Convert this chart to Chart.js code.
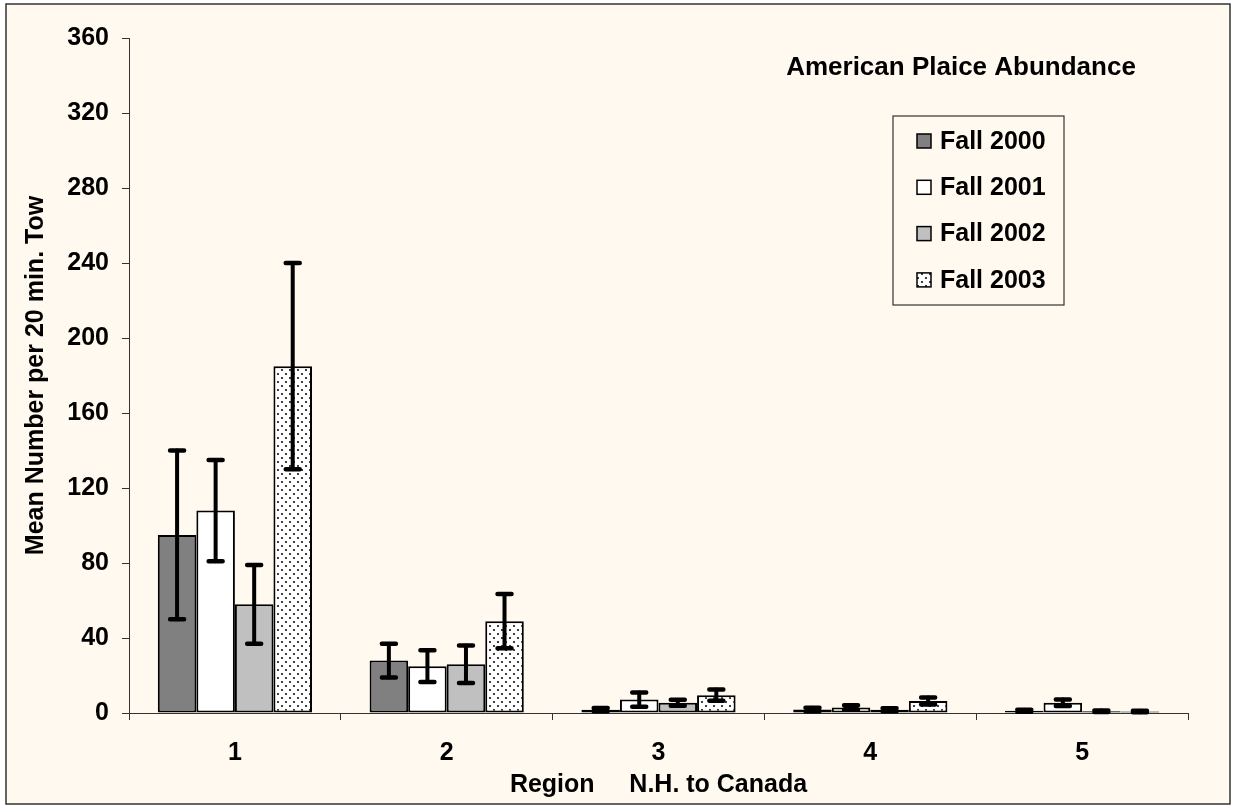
<!DOCTYPE html>
<html>
<head>
<meta charset="utf-8">
<script src="https://cdn.jsdelivr.net/npm/chart.js@4/dist/chart.umd.min.js"></script>
<style>
  html, body { margin: 0; padding: 0; background: #ffffff; }
  #wrap { width: 1233px; height: 807px; }
</style>
</head>
<body>
<div id="wrap"><canvas id="c" width="1233" height="807"></canvas></div>
<script>
// ---- data ----
const regions = ['1', '2', '3', '4', '5'];
const seriesNames = ['Fall 2000', 'Fall 2001', 'Fall 2002', 'Fall 2003'];
const fall2000 = [95, 28, 1.8, 1.9, 1.2];
const fall2001 = [108, 25, 7.2, 3.0, 5.5];
const fall2002 = [58, 26, 5.5, 1.8, 1.0];
const fall2003 = [185, 49, 9.5, 6.4, 0.8];
const err2000 = [45, 9, 0.9, 0.9, 0.5];
const err2001 = [27, 8.5, 3.8, 1.2, 1.7];
const err2002 = [21, 10, 1.6, 0.8, 0.4];
const err2003 = [55, 14.5, 3.0, 1.9, 0.4];
const yTicks = [0, 40, 80, 120, 160, 200, 240, 280, 320, 360];
const chartTitle = 'American Plaice Abundance';
const xTitle = 'Region     N.H. to Canada';
const yTitle = 'Mean Number per 20 min. Tow';

// ---- styles ----
const FONT = "'Liberation Sans', Arial, sans-serif";
const BG = '#FFF9EF';

const ctx0 = document.getElementById('c').getContext('2d');
const pattern = ctx0.createPattern((() => {
  const p = document.createElement('canvas');
  p.width = 8; p.height = 8;
  const g = p.getContext('2d');
  g.fillStyle = '#ffffff'; g.fillRect(0, 0, 8, 8);
  g.fillStyle = '#404040';
  g.fillRect(1, 1, 2, 2); g.fillRect(5, 5, 2, 2);
  return p;
})(), 'repeat');

const fills = ['#808080', '#ffffff', '#C0C0C0', pattern];
const values = [fall2000, fall2001, fall2002, fall2003];
const errors = [err2000, err2001, err2002, err2003];

const datasets = seriesNames.map((n, i) => ({
  label: n,
  data: values[i],
  errors: errors[i],
  backgroundColor: fills[i],
  borderColor: '#000000',
  borderWidth: 2,
  borderSkipped: false,
  categoryPercentage: 0.728,
  barPercentage: 1.0
}));

const bgPlugin = {
  id: 'bg',
  beforeDraw(chart) {
    const c = chart.ctx;
    c.save();
    c.fillStyle = '#ffffff';
    c.fillRect(0, 0, chart.width, chart.height);
    c.fillStyle = BG;
    c.fillRect(6, 4, 1224, 800);
    c.strokeStyle = '#333333';
    c.lineWidth = 1.5;
    c.strokeRect(6, 4, 1224, 800);
    c.restore();
  }
};

const errPlugin = {
  id: 'errbars',
  afterDatasetsDraw(chart) {
    const c = chart.ctx;
    const y = chart.scales.y;
    c.save();
    c.strokeStyle = '#000000';
    c.lineCap = 'round';
    chart.data.datasets.forEach((ds, di) => {
      const meta = chart.getDatasetMeta(di);
      meta.data.forEach((bar, i) => {
        const v = ds.data[i], e = ds.errors[i];
        const yt = y.getPixelForValue(v + e);
        const yb = y.getPixelForValue(Math.max(0, v - e));
        c.lineWidth = 4;
        c.beginPath();
        c.moveTo(bar.x, yt); c.lineTo(bar.x, yb);
        c.stroke();
        c.lineWidth = 4.5;
        c.beginPath();
        c.moveTo(bar.x - 7, yt); c.lineTo(bar.x + 7, yt);
        c.moveTo(bar.x - 7, yb); c.lineTo(bar.x + 7, yb);
        c.stroke();
      });
    });
    c.restore();
  }
};

const annoPlugin = {
  id: 'anno',
  afterDraw(chart) {
    const c = chart.ctx;
    c.save();
    c.fillStyle = '#000000';
    c.font = "bold 26px " + FONT;
    c.textAlign = 'center';
    c.textBaseline = 'middle';
    c.fillText(chartTitle, 961, 68);
    const bx = 893, by = 116, bw = 171, bh = 189;
    c.fillStyle = BG;
    c.fillRect(bx, by, bw, bh);
    c.strokeStyle = '#333333';
    c.lineWidth = 1.2;
    c.strokeRect(bx, by, bw, bh);
    c.font = "bold 25px " + FONT;
    c.textAlign = 'left';
    chart.data.datasets.forEach((ds, i) => {
      const cy = 141 + i * 46.3;
      c.fillStyle = ds.backgroundColor;
      c.fillRect(917, cy - 7, 14, 14);
      c.strokeStyle = '#000000';
      c.lineWidth = 1.5;
      c.strokeRect(917, cy - 7, 14, 14);
      c.fillStyle = '#000000';
      c.fillText(ds.label, 940, cy + 1);
    });
    c.restore();
  }
};

new Chart(document.getElementById('c'), {
  type: 'bar',
  data: { labels: regions, datasets },
  options: {
    responsive: false,
    animation: false,
    layout: { padding: { left: 0, right: 45, top: 38, bottom: 0 } },
    plugins: { legend: { display: false }, tooltip: { enabled: false } },
    scales: {
      x: {
        offset: true,
        grid: { offset: true, drawOnChartArea: false, drawTicks: true, tickLength: 7, color: '#333333', lineWidth: 1 },
        border: { display: true, color: '#333333', width: 1 },
        ticks: { color: '#000000', padding: 18, font: { family: FONT, size: 25, weight: 'bold' } },
        title: { display: true, text: xTitle, color: '#000000', padding: { top: 0, bottom: 7 }, font: { family: FONT, size: 25, weight: 'bold' } },
        afterFit(s) { s.height = 94; }
      },
      y: {
        min: 0, max: 360,
        afterBuildTicks(s) { s.ticks = yTicks.map(v => ({ value: v })); },
        grid: { drawOnChartArea: false, drawTicks: true, tickLength: 7, color: '#333333', lineWidth: 1 },
        border: { display: true, color: '#333333', width: 1 },
        ticks: { color: '#000000', padding: 13, font: { family: FONT, size: 25, weight: 'bold' } },
        title: { display: true, text: yTitle, color: '#000000', padding: { top: 21, bottom: 0 }, font: { family: FONT, size: 25, weight: 'bold' } },
        afterFit(s) { s.width = 129; }
      }
    }
  },
  plugins: [bgPlugin, errPlugin, annoPlugin]
});
</script>
</body>
</html>
